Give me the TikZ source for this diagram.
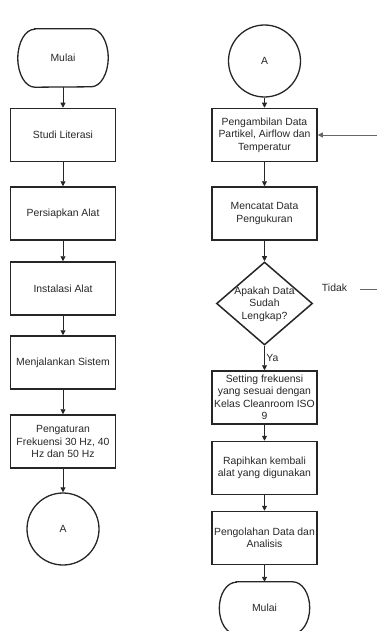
\documentclass[tikz,border=0pt]{standalone}
\usepackage{fontspec}
\setmainfont{Liberation Sans}
\usepackage{tikz}
\usetikzlibrary{shapes,arrows.meta,positioning,calc}

\begin{document}
\begin{tikzpicture}[x=1pt, y=-1pt,
    every node/.style={font=\fontsize{10.4pt}{12.5pt}\selectfont, text=black!85},
    garis/.style={draw=black!85, line width=1.3pt},
    proses/.style={draw=black!85, line width=1.5pt, rectangle, minimum width=105pt, minimum height=53pt, align=center, inner sep=1pt},
    terminal/.style={rectangle, minimum width=90pt, minimum height=58pt},
    konektor/.style={draw=black!85, line width=1.3pt, circle, minimum size=72pt, inner sep=0pt},
    keputusan/.style={draw=black!85, line width=1.5pt, diamond, minimum width=96pt, minimum height=83pt, inner sep=0pt},
    panah/.style={draw=black!85, line width=0.9pt, -{Triangle[length=5pt, width=5pt]}}]
    \useasboundingbox (0,0) rectangle (376,631);

    % Kolom kiri
    \node[terminal] (mulai) at (63,58) {Mulai};
    \draw[garis] ($(mulai.north west)+(17,0)$) -- ($(mulai.north east)+(-17,0)$)
        arc[start angle=90, end angle=-90, x radius=17pt, y radius=29pt]
        -- ($(mulai.south west)+(17,0)$)
        arc[start angle=270, end angle=90, x radius=17pt, y radius=29pt] -- cycle;
    \node[proses] (studi) at (63,135) {Studi Literasi};
    \node[proses] (persiapan) at (63,213.5) {Persiapkan Alat};
    \node[proses] (instalasi) at (63,288.5) {Instalasi Alat};
    \node[proses] (jalankan) at (63,362.5) {Menjalankan Sistem};
    \node[proses] (pengaturan) at (63,441.5) {Pengaturan\\Frekuensi 30 Hz, 40\\Hz dan 50 Hz};
    \node[konektor] (konA) at (63,529) {A};

    % Kolom kanan
    \node[konektor] (konB) at (264.5,61) {A};
    \node[proses] (ambil) at (264.5,135) {Pengambilan Data\\Partikel, Airflow dan\\Temperatur};
    \node[proses] (catat) at (264.5,213.5) {Mencatat Data\\Pengukuran};
    \node[keputusan] (cek) at (264.5,303.5) {};
    \node[align=center, inner sep=0pt] (cekteks) at (264.5,304) {Apakah Data\\Sudah\\Lengkap?};
    \node[proses] (setting) at (264.5,397.5) {Setting frekuensi\\yang sesuai dengan\\Kelas Cleanroom ISO\\9};
    \node[proses] (rapih) at (264.5,468) {Rapihkan kembali\\alat yang digunakan};
    \node[proses] (olah) at (264.5,538) {Pengolahan Data dan\\Analisis};
    \node[terminal, minimum height=52pt] (selesai) at (264.5,608) {Mulai};
    \draw[garis] ($(selesai.north west)+(17,0)$) -- ($(selesai.north east)+(-17,0)$)
        arc[start angle=90, end angle=-90, x radius=17pt, y radius=26pt]
        -- ($(selesai.south west)+(17,0)$)
        arc[start angle=270, end angle=90, x radius=17pt, y radius=26pt] -- cycle;

    % Label cabang
    \node (tidak) at (334.5,288) {Tidak};
    \coordinate (tidakawal) at (360,289);
    \coordinate (putar) at (390,289);

    % Panah kiri
    \draw[panah] (mulai) -- (studi);
    \draw[panah] (studi) -- (persiapan);
    \draw[panah] (persiapan) -- (instalasi);
    \draw[panah] (instalasi) -- (jalankan);
    \draw[panah] (jalankan) -- (pengaturan);
    \draw[panah] (pengaturan) -- (konA);

    % Panah kanan
    \draw[panah] (konB) -- (ambil);
    \draw[panah] (ambil) -- (catat);
    \draw[panah] (catat) -- (cek);
    \draw[panah] (cek) -- node[right, inner sep=1.5pt] {Ya} (setting);
    \draw[panah] (setting) -- (rapih);
    \draw[panah] (rapih) -- (olah);
    \draw[panah] (olah) -- (selesai);

    % Balik ke pengambilan data
    \draw[panah, draw=black!60] (tidakawal) -- (putar) |- (ambil.east);
\end{tikzpicture}
\end{document}
